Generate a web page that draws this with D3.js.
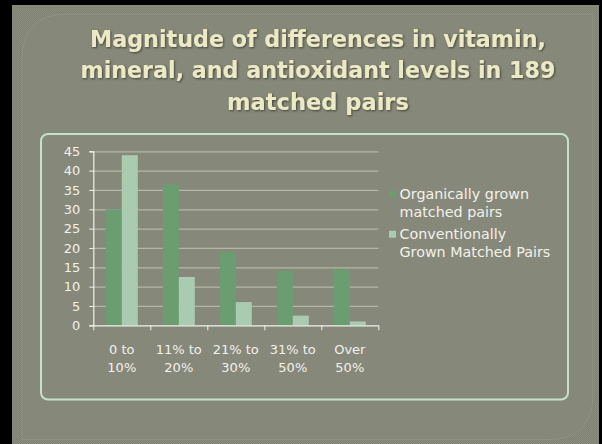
<!DOCTYPE html>
<html>
<head>
<meta charset="utf-8">
<script src="https://cdn.jsdelivr.net/npm/d3@7"></script>
<style>
  html, body { margin: 0; padding: 0; background: #000; }
  svg { display: block; }
</style>
</head>
<body>
<div id="chart"></div>
<script>
const titleLines = [
  "Magnitude of differences in vitamin,",
  "mineral, and antioxidant levels in 189",
  "matched pairs"
];
const categories = ["0 to 10%", "11% to 20%", "21% to 30%", "31% to 50%", "Over 50%"];
const seriesNames = ["Organically grown matched pairs", "Conventionally Grown Matched Pairs"];
const legendLines = [["Organically grown", "matched pairs"], ["Conventionally", "Grown Matched Pairs"]];
const organic = [30, 36.5, 19, 14, 14.5];
const conventional = [44, 12.5, 6, 2.5, 1];
const yTicks = [0, 5, 10, 15, 20, 25, 30, 35, 40, 45];

const W = 602, H = 444;
const plot = { left: 93.3, right: 378.3, top: 151.3, bottom: 325.3 };
const colors = ["#6a9e71", "#a9cbb0"];
const font = "'DejaVu Sans', sans-serif";

const svg = d3.select("#chart").append("svg")
  .attr("width", W)
  .attr("height", H);

const defs = svg.append("defs");
const pat = defs.append("pattern")
  .attr("id", "tex")
  .attr("width", 2).attr("height", 2)
  .attr("patternUnits", "userSpaceOnUse");
pat.append("rect").attr("width", 2).attr("height", 2).attr("fill", "#7e8072");
pat.append("rect").attr("width", 1).attr("height", 1).attr("fill", "#8c8e80");
pat.append("rect").attr("x", 1).attr("y", 1).attr("width", 1).attr("height", 1).attr("fill", "#8c8e80");

const shadow = defs.append("filter").attr("id", "shadow")
  .attr("x", "-5%").attr("y", "-20%").attr("width", "110%").attr("height", "140%");
shadow.append("feDropShadow")
  .attr("dx", 1).attr("dy", 1).attr("stdDeviation", 0.8)
  .attr("flood-color", "#3a3b30").attr("flood-opacity", 0.9);

// slide frame
svg.append("rect").attr("width", W).attr("height", H).attr("fill", "#000");
svg.append("rect")
  .attr("x", 12).attr("y", 5).attr("width", 587).attr("height", 439)
  .attr("fill", "url(#tex)");

// inner panel, rounded top-left and bottom-right
const px0 = 22, py0 = 14, px1 = 593, py1 = 439.5, r = 45;
svg.append("path")
  .attr("d", `M${px0},${py0 + r} Q${px0},${py0} ${px0 + r},${py0} L${px1},${py0} L${px1},${py1 - r}
    Q${px1},${py1} ${px1 - r},${py1} L${px0},${py1} Z`)
  .attr("fill", "#868879")
  .attr("stroke", "#8f9183")
  .attr("stroke-width", 1);

// title
const title = svg.append("g")
  .attr("font-family", font)
  .attr("font-weight", "bold")
  .attr("font-size", 24)
  .attr("fill", "#eceac4")
  .attr("text-anchor", "middle")
  .attr("filter", "url(#shadow)");

const titleBase = [46.7, 78.3, 110];
const titleWidth = [456, 475, 182];
title.selectAll("text")
  .data(titleLines)
  .join("text")
  .attr("x", 318)
  .attr("y", (d, i) => titleBase[i])
  .text(d => d)
  .each(function (d, i) {
    const w = this.getComputedTextLength();
    if (w > 0) d3.select(this).attr("font-size", 24 * titleWidth[i] / w);
  });

// chart box
svg.append("rect")
  .attr("x", 41).attr("y", 134)
  .attr("width", 527).attr("height", 265.5)
  .attr("rx", 7)
  .attr("fill", "none")
  .attr("stroke", "#c4e2c8")
  .attr("stroke-width", 2);

const x0 = d3.scaleBand()
  .domain(categories)
  .range([plot.left, plot.right])
  .paddingInner(0.4386)
  .paddingOuter(0.2193);

const x1 = d3.scaleBand()
  .domain(seriesNames)
  .range([0, x0.bandwidth()]);

const y = d3.scaleLinear()
  .domain([0, 45])
  .range([plot.bottom, plot.top]);

// gridlines
svg.append("g")
  .attr("transform", `translate(${plot.left},0)`)
  .call(d3.axisLeft(y).tickValues(yTicks.slice(1)).tickSize(-(plot.right - plot.left)).tickFormat(""))
  .call(g => g.select(".domain").remove())
  .call(g => g.selectAll("line").attr("stroke", "#b4b6a6").attr("stroke-width", 1.2));

// bars
const rows = categories.map((c, i) => ({ cat: c, values: [organic[i], conventional[i]] }));
svg.append("g")
  .selectAll("g")
  .data(rows)
  .join("g")
  .attr("transform", d => `translate(${x0(d.cat)},0)`)
  .selectAll("rect")
  .data(d => d.values.map((v, k) => ({ name: seriesNames[k], v, k })))
  .join("rect")
  .attr("x", d => x1(d.name))
  .attr("y", d => y(d.v))
  .attr("width", x1.bandwidth())
  .attr("height", d => y(0) - y(d.v))
  .attr("fill", d => colors[d.k]);

// y axis
svg.append("g")
  .attr("transform", `translate(${plot.left},0)`)
  .call(d3.axisLeft(y).tickValues(yTicks).tickSize(4).tickPadding(9))
  .call(g => g.select(".domain").attr("stroke", "#f2f2ec").attr("stroke-width", 1.2))
  .call(g => g.selectAll("line").attr("stroke", "#f2f2ec"))
  .call(g => g.selectAll("text")
    .attr("fill", "#f2f2ec")
    .attr("font-family", font)
    .attr("font-size", 13));

// x axis with ticks at category boundaries
const xb = d3.scaleLinear().domain([0, categories.length]).range([plot.left, plot.right]);
svg.append("g")
  .attr("transform", `translate(0,${plot.bottom})`)
  .call(d3.axisBottom(xb).tickValues(d3.range(categories.length + 1)).tickSize(5).tickSizeOuter(0).tickFormat(""))
  .call(g => g.select(".domain").attr("stroke", "#f2f2ec").attr("stroke-width", 1.2))
  .call(g => g.selectAll("line").attr("stroke", "#f2f2ec"));

// category labels on two lines
const catLabels = svg.append("g")
  .attr("font-family", font)
  .attr("font-size", 13)
  .attr("fill", "#f2f2ec")
  .attr("text-anchor", "middle");
catLabels.selectAll("text")
  .data(categories)
  .join("text")
  .attr("x", d => x0(d) + x0.bandwidth() / 2)
  .attr("y", 354.3)
  .each(function (d) {
    const cut = d.lastIndexOf(" ");
    const parts = [d.slice(0, cut), d.slice(cut + 1)];
    d3.select(this).selectAll("tspan")
      .data(parts)
      .join("tspan")
      .attr("x", x0(d) + x0.bandwidth() / 2)
      .attr("dy", (p, j) => j === 0 ? 0 : 18)
      .text(p => p);
  });

// legend
const legend = svg.append("g")
  .attr("font-family", font)
  .attr("font-size", 14.3)
  .attr("fill", "#f2f2ec");
const legendTop = [190.7, 230.7];
const item = legend.selectAll("g")
  .data(seriesNames)
  .join("g")
  .attr("transform", (d, i) => `translate(389,${legendTop[i]})`);
item.append("rect")
  .attr("width", 7).attr("height", 7)
  .attr("fill", (d, i) => colors[i]);
item.append("text")
  .attr("x", 10.5)
  .attr("y", 8.5)
  .each(function (d, i) {
    d3.select(this).selectAll("tspan")
      .data(legendLines[i])
      .join("tspan")
      .attr("x", 10.5)
      .attr("dy", (p, j) => j === 0 ? 0 : 17.8)
      .text(p => p);
  });
</script>
</body>
</html>
